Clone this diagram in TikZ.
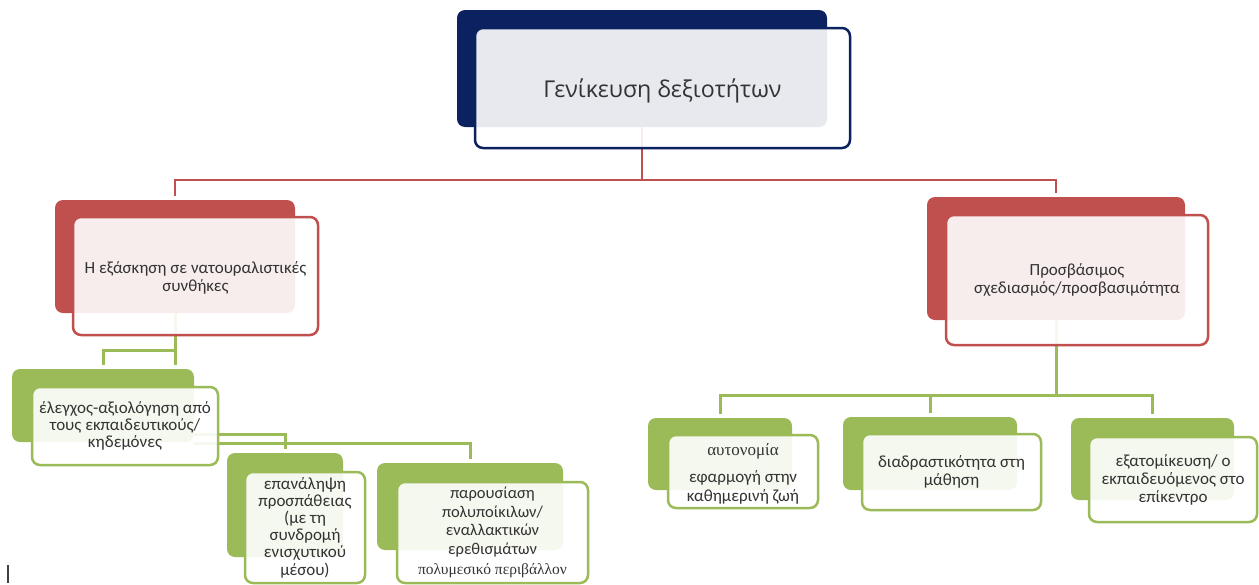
\documentclass[tikz,border=0pt]{standalone}
\usepackage{fontspec}
\setmainfont{Carlito}
\newfontfamily\titlefont{Open Sans}
\newfontfamily\serifgr{Liberation Serif}
\usetikzlibrary{fit}

\definecolor{navy}{HTML}{0C2160}
\definecolor{brick}{HTML}{C0504D}
\definecolor{leaf}{HTML}{9BBB59}
\definecolor{ink}{HTML}{333333}

\tikzset{
  backbox/.style={rounded corners=8pt, inner sep=0pt, draw=none, fill=#1},
  frontbox/.style={rounded corners=8pt, inner sep=0pt, line width=2.5pt,
    draw=#1, fill=white, fill opacity=0.9},
  cardtext/.style={inner sep=0pt, align=center, text=ink, anchor=center},
  redlink/.style={draw=brick, line width=2.5pt, shorten >=4pt},
  greenlink/.style={draw=leaf, line width=3pt, shorten >=4pt},
}

\begin{document}
\begin{tikzpicture}[x=1pt, y=-1pt]
\useasboundingbox[fill=white] (0,0) rectangle (1259,584);

% ---------- back plates (drawn first, connectors run behind the cards)
\node[backbox=navy,  fit={(457,10) (827,127)}]  (tb)  {};
\node[backbox=brick, fit={(55,200) (295,313)}]  (rlb) {};
\node[backbox=brick, fit={(927,197) (1185,320)}] (rrb) {};
\node[backbox=leaf,  fit={(12,369) (194,442)}]  (g1b) {};
\node[backbox=leaf,  fit={(227,453) (343,557)}] (g2b) {};
\node[backbox=leaf,  fit={(377,463) (563,550)}] (g3b) {};
\node[backbox=leaf,  fit={(648,418) (792,490)}] (gAb) {};
\node[backbox=leaf,  fit={(843,417) (1017,490)}] (gBb) {};
\node[backbox=leaf,  fit={(1071,418) (1234,500)}] (gCb) {};

% ---------- connectors
\coordinate (rj) at (tb.south |- 0,180);
\draw[redlink] (tb.south) -- (rj) -| (rlb.north);
\draw[redlink] (rj) -| (rrb.north);

\coordinate (lj) at (rlb.south |- 0,350);
\draw[greenlink] (rlb.south) -- (rlb.south |- g1b.north);
\draw[greenlink] (lj) -| (g1b.north);

\draw[greenlink] (g1b.east |- 0,434) -| (g2b.north);
\draw[greenlink] (g1b.east |- 0,443) -| (g3b.north);

\coordinate (gj) at (rrb.south |- 0,395);
\draw[greenlink, shorten >=0pt] (rrb.south) -- (gj);
\draw[greenlink] (gj) -| (gAb.north);
\draw[greenlink] (gj) -| (gCb.north);
\draw[greenlink] (gBb.north |- gj) -- (gBb.north);

% ---------- front cards
\node[frontbox=navy,  fit={(475,28) (850,148)}]   (tf)  {};
\node[frontbox=brick, fit={(73,217) (318,335)}]   (rlf) {};
\node[frontbox=brick, fit={(946,215) (1208,345)}] (rrf) {};
\node[frontbox=leaf,  fit={(32,387) (218,465)}]   (g1f) {};
\node[frontbox=leaf,  fit={(245,472) (365,583)}]  (g2f) {};
\node[frontbox=leaf,  fit={(397,482) (588,583)}]  (g3f) {};
\node[frontbox=leaf,  fit={(668,435) (818,508)}]  (gAf) {};
\node[frontbox=leaf,  fit={(862,434) (1041,510)}] (gBf) {};
\node[frontbox=leaf,  fit={(1089,437) (1257,522)}] (gCf) {};

% ---------- texts of the cards
\node[cardtext, font=\titlefont\fontsize{23.2}{26}\selectfont, yshift=-2.5pt] (tt) at (tf.center)
  {Γενίκευση δεξιοτήτων};
\node[cardtext, font=\fontsize{17}{18}\selectfont, yshift=-2pt] (rlt) at (rlf.center)
  {Η εξάσκηση σε νατουραλιστικές\\συνθήκες};
\node[cardtext, font=\fontsize{17}{18}\selectfont] (rrt) at (rrf.center)
  {Προσβάσιμος\\σχεδιασμός/προσβασιμότητα};
\node[cardtext, font=\fontsize{17}{17}\selectfont] (g1t) at (g1f.center)
  {έλεγχος-αξιολόγηση από\\τους εκπαιδευτικούς/\\κηδεμόνες};
\node[cardtext, font=\fontsize{17}{17.2}\selectfont] (g2t) at (g2f.center)
  {επανάληψη\\προσπάθειας\\(με τη\\συνδρομή\\ενισχυτικού\\μέσου)};
\node[cardtext, font=\fontsize{16.5}{18.5}\selectfont] (g3t) at (g3f.center)
  {παρουσίαση\\πολυποίκιλων/\\εναλλακτικών\\ερεθισμάτων\\[2pt]{\serifgr\fontsize{15.5}{18}\selectfont πολυμεσικό περιβάλλον}};
\node[cardtext, font=\fontsize{17}{19}\selectfont, yshift=-2.5pt] (gAt) at (gAf.center)
  {{\serifgr\fontsize{17}{18}\selectfont αυτονομία}\\[8pt]εφαρμογή στην\\καθημερινή ζωή};
\node[cardtext, font=\fontsize{17}{18}\selectfont] (gBt) at (gBf.center)
  {διαδραστικότητα στη\\μάθηση};
\node[cardtext, font=\fontsize{17}{18}\selectfont] (gCt) at (gCf.center)
  {εξατομίκευση/ ο\\εκπαιδευόμενος στο\\επίκεντρο};

% ---------- small text-cursor mark at the lower left
\draw[line width=1.6pt, black!75] (8,565) -- (8,583);
\end{tikzpicture}
\end{document}
